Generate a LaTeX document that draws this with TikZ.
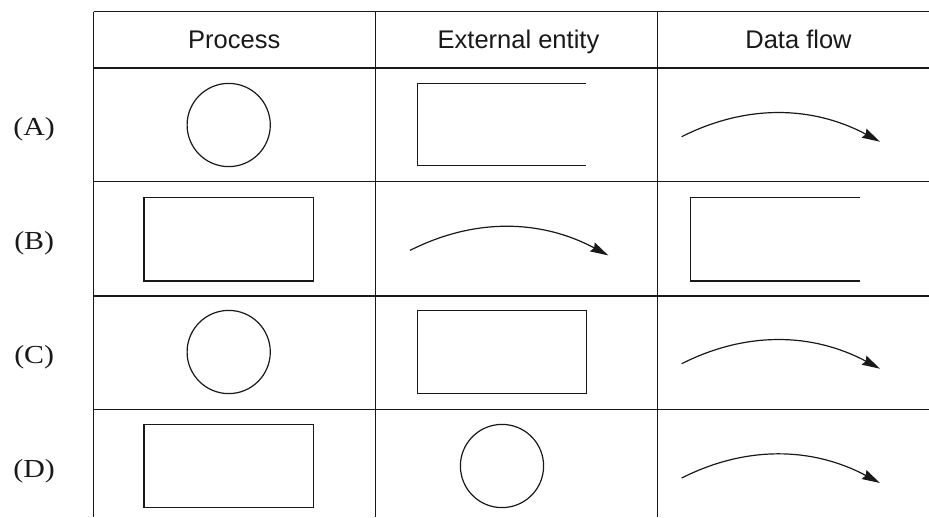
\documentclass[tikz,border=0pt]{standalone}
\usepackage{fontspec}
\usepackage{graphicx}
\setmainfont{Liberation Serif}
\setsansfont{Liberation Sans}
\usetikzlibrary{arrows.meta,calc}
\tikzset{
  grid line/.style={line width=1.4pt, draw=black!90},
  shape line/.style={line width=1.2pt, draw=black!90},
  headtext/.style={anchor=base, font=\sffamily\fontsize{25.5}{30}\selectfont, text=black!90, inner sep=0pt},
  rowlabel/.style={anchor=base, font=\fontsize{26}{30}\selectfont, text=black!90, inner sep=0pt},
  procircle/.style={shape line, circle, minimum size=83.2pt, inner sep=0pt},
  probox/.style={shape line, rectangle, minimum width=169.3pt, minimum height=83.3pt, inner sep=0pt},
  flow/.style={shape line, -{Stealth[length=18pt,width=10pt,inset=2pt]}},
}
\newcommand{\flowarrow}[3]{% name, x, y of start
  \coordinate (#1s) at (#2,#3);
  \coordinate (#1e) at ($(#2,#3)+(198.3,5)$);
  \draw[flow] (#1s) .. controls ($(#1s)+(64.7,-32.7)$) and ($(#1s)+(130.8,-31)$) .. (#1e);
}
\begin{document}
\begin{tikzpicture}[x=1pt,y=-1pt]
\useasboundingbox (0,0) rectangle (929,517);
% table grid
\draw[grid line] (93.5,11.7) -- (929,11.7);
\draw[grid line] (93.5,68) -- (929,68);
\draw[grid line] (93.5,181.7) -- (929,181.7);
\draw[grid line] (93.5,296) -- (929,296);
\draw[grid line] (93.5,409.3) -- (929,409.3);
\draw[grid line] (93.5,11.7) -- (93.5,517);
\draw[grid line] (375.7,11.7) -- (375.7,517);
\draw[grid line] (657.3,11.7) -- (657.3,517);
% headers
\node[headtext] (hp) at (234.2,48.3) {Process};
\node[headtext] (he) at (518.5,48.3) {External entity};
\node[headtext] (hd) at (798.5,48.3) {Data flow};
% row labels
\node[rowlabel] (la) at (34.2,135) {\scalebox{1.15}[1]{(A)}};
\node[rowlabel] (lb) at (34.2,249.3) {\scalebox{1.15}[1]{(B)}};
\node[rowlabel] (lc) at (34.2,363.3) {\scalebox{1.15}[1]{(C)}};
\node[rowlabel] (ld) at (34.2,477.3) {\scalebox{1.15}[1]{(D)}};
% row A
\node[procircle] (pa) at (228.7,125) {};
\draw[shape line] (586,83.3) -- (417.3,83.3) -- (417.3,165.7) -- (586,165.7);
\flowarrow{fa}{681.7}{136.7}
% row B
\node[probox] (pb) at (228.65,239.35) {};
\flowarrow{eb}{410}{250.4}
\draw[shape line] (859.7,197.7) -- (690.7,197.7) -- (690.7,281) -- (859.7,281);
% row C
\node[procircle] (pc) at (228.7,352) {};
\node[probox] (ec) at (502,352) {};
\flowarrow{fc}{681.7}{363.7}
% row D
\node[probox] (pd) at (228.65,465.85) {};
\node[procircle] (ed) at (502,466) {};
\flowarrow{fd}{681.7}{478}
\end{tikzpicture}
\end{document}
